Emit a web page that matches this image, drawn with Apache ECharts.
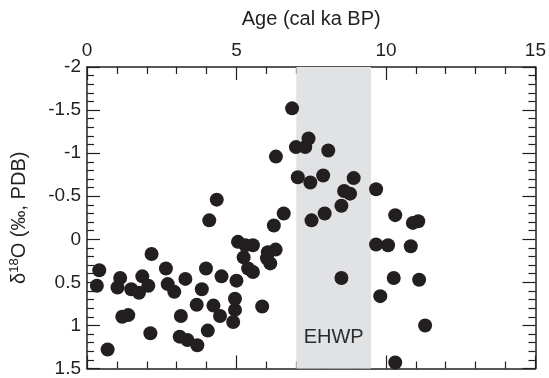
<!DOCTYPE html>
<html>
<head>
<meta charset="utf-8">
<script src="https://cdn.jsdelivr.net/npm/echarts@6/dist/echarts.min.js"></script>
<style>
  html, body { margin: 0; padding: 0; background: #fff; }
  #chart { width: 549px; height: 378px; }
</style>
</head>
<body>
<div id="chart"></div>
<script>
// Sample ages (cal ka BP) and oxygen isotope values (‰, PDB)
var ages = [0.33, 0.41, 0.69, 1.02, 1.11, 1.18, 1.38, 1.48, 1.74, 1.85,
            2.05, 2.12, 2.16, 2.64, 2.70, 2.92, 3.10, 3.14, 3.29, 3.36,
            3.67, 3.69, 3.84, 3.98, 4.04, 4.09, 4.23, 4.34, 4.45, 4.50,
            4.89, 4.95, 4.95, 5.00, 5.05, 5.24, 5.30, 5.39, 5.55, 5.55,
            5.86, 6.02, 6.05, 6.13, 6.25, 6.31, 6.32, 6.58, 6.86, 6.99,
            7.05, 7.30, 7.41, 7.47, 7.51, 7.90, 7.95, 8.07, 8.51, 8.51,
            8.60, 8.80, 8.92, 9.67, 9.67, 9.81, 10.07, 10.26, 10.31, 10.31,
            10.83, 10.90, 11.08, 11.11, 11.31];
var d18O = [0.54, 0.36, 1.28, 0.56, 0.45, 0.90, 0.88, 0.58, 0.62, 0.43,
            0.54, 1.09, 0.17, 0.34, 0.52, 0.61, 1.13, 0.89, 0.46, 1.17,
            0.76, 1.23, 0.58, 0.34, 1.06, -0.22, 0.77, -0.46, 0.89, 0.43,
            0.96, 0.69, 0.82, 0.48, 0.03, 0.21, 0.07, 0.34, 0.07, 0.38,
            0.78, 0.22, 0.15, 0.28, -0.16, 0.12, -0.96, -0.30, -1.52, -1.07,
            -0.72, -1.07, -1.17, -0.66, -0.22, -0.74, -0.30, -1.03, -0.39, 0.45,
            -0.56, -0.53, -0.71, -0.58, 0.06, 0.66, 0.07, 0.45, -0.28, 1.43,
            0.08, -0.19, -0.21, 0.47, 1.00];

// Early Holocene warm period interval
var ehwpRange = [7, 9.5];
var ehwpName = 'EHWP';

// Axis tick values
var xTicks = [0, 5, 10, 15];
var yTicks = [-2, -1.5, -1, -0.5, 0, 0.5, 1, 1.5];

var ink = '#231f20';
var font = '"Liberation Sans", Arial, Helvetica, sans-serif';

var points = ages.map(function (a, i) { return [a, d18O[i]]; });

function xAxisCfg(pos, showLabels) {
  return {
    type: 'value', position: pos,
    min: xTicks[0], max: xTicks[xTicks.length - 1],
    interval: xTicks[1] - xTicks[0],
    name: showLabels ? 'Age (cal ka BP)' : '',
    nameLocation: 'middle', nameGap: 38,
    nameTextStyle: { color: ink, fontSize: 20, fontFamily: font },
    axisLine: { show: true, onZero: false, lineStyle: { color: ink, width: 1.5 } },
    axisTick: { show: true, inside: true, length: 13, lineStyle: { color: ink, width: 1.2 } },
    minorTick: { show: true, splitNumber: 5, length: 7, lineStyle: { color: ink, width: 1.2 } },
    axisLabel: { show: showLabels, color: ink, fontSize: 19, fontFamily: font, margin: 7 },
    splitLine: { show: false }, minorSplitLine: { show: false }
  };
}

function yAxisCfg(pos, showLabels) {
  return {
    type: 'value', position: pos, inverse: true,
    min: yTicks[0], max: yTicks[yTicks.length - 1],
    interval: yTicks[1] - yTicks[0],
    name: showLabels ? 'δ{sup|18}O (‰, PDB)' : '',
    nameLocation: 'middle', nameGap: 56, nameRotate: 90,
    nameTextStyle: {
      color: ink, fontSize: 20, fontFamily: font,
      rich: { sup: { fontSize: 13, verticalAlign: 'top', padding: [0, 0, 10, 0], color: ink, fontFamily: font } }
    },
    axisLine: { show: true, onZero: false, lineStyle: { color: ink, width: 1.5 } },
    axisTick: { show: true, inside: true, length: 13, lineStyle: { color: ink, width: 1.2 } },
    minorTick: { show: true, splitNumber: 5, length: 7, lineStyle: { color: ink, width: 1.2 } },
    axisLabel: { show: showLabels, color: ink, fontSize: 19, fontFamily: font, margin: 6 },
    splitLine: { show: false }, minorSplitLine: { show: false }
  };
}

var chart = echarts.init(document.getElementById('chart'), null, { renderer: 'canvas' });
chart.setOption({
  animation: false,
  backgroundColor: '#ffffff',
  grid: { left: 86, right: 11, top: 67, bottom: 8, containLabel: false },
  xAxis: [xAxisCfg('top', true), xAxisCfg('bottom', false)],
  yAxis: [yAxisCfg('left', true), yAxisCfg('right', false)],
  series: [
    {
      type: 'scatter', xAxisIndex: 0, yAxisIndex: 0, data: [], z: 1,
      markArea: {
        silent: true,
        itemStyle: { color: '#e1e2e4' },
        label: {
          show: true, position: 'insideBottom', distance: 21,
          color: '#2b2b2b', fontSize: 20, fontFamily: font
        },
        data: [[
          { name: ehwpName, xAxis: ehwpRange[0], yAxis: yTicks[0] },
          { xAxis: ehwpRange[1], yAxis: yTicks[yTicks.length - 1] }
        ]]
      }
    },
    {
      type: 'scatter', xAxisIndex: 0, yAxisIndex: 0, z: 3,
      symbol: 'circle', symbolSize: 14,
      itemStyle: { color: ink, opacity: 1 },
      data: points
    }
  ]
});
</script>
</body>
</html>
